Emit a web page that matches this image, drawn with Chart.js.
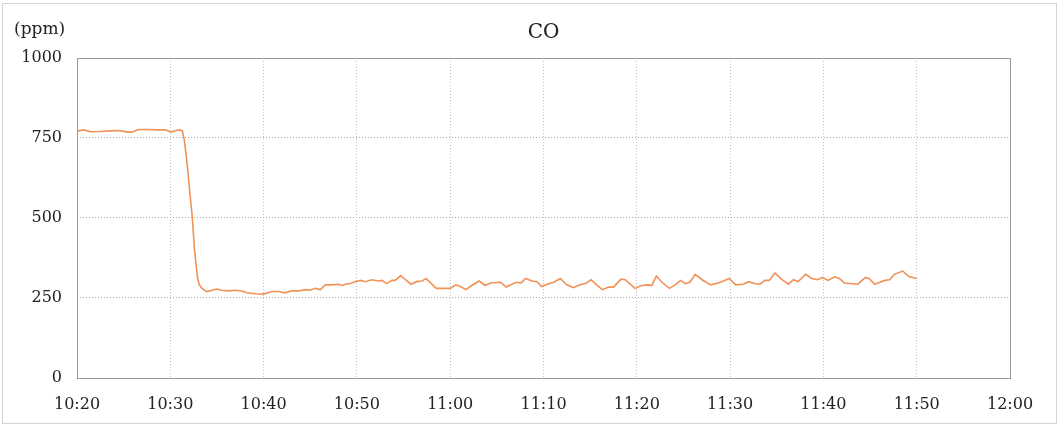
<!DOCTYPE html>
<html>
<head>
<meta charset="utf-8">
<script src="https://cdn.jsdelivr.net/npm/chart.js@4/dist/chart.umd.min.js"></script>
<style>
  html, body { margin: 0; padding: 0; background: #fff; }
  #wrap { width: 1059px; height: 427px; position: relative; }
</style>
</head>
<body>
<div id="wrap"><canvas id="c" width="1059" height="427"></canvas></div>
<script>
// ---- data ----
const chartTitle = 'CO';
const unitLabel = '(ppm)';
// minutes after 10:20
const minutes = [
  0, 0.7, 1.5, 2.5, 3.6, 4.6, 5.4, 5.9, 6.6, 7.5, 8.6, 9.5, 10.1, 10.6, 11.0, 11.3,
  11.5, 11.8, 12.1, 12.35, 12.6, 12.9, 13.1, 13.4, 13.9, 14.5, 15.0, 15.5, 16.25, 16.96,
  17.7, 18.2, 19.1, 20.0, 20.9, 21.6, 22.3, 23.0, 23.75, 24.5, 25.0, 25.5, 26.1, 26.6,
  27.3, 28.0, 28.4, 28.75, 29.3, 29.8, 30.4, 30.9, 31.6, 32.3, 32.7, 33.2, 33.75, 34.1,
  34.7, 35.2, 35.8, 36.4, 37.0, 37.4, 37.9, 38.5, 40.0, 40.6, 41.1, 41.7, 42.3, 43.1,
  43.75, 44.3, 45.4, 46.0, 46.6, 47.1, 47.6, 48.1, 48.75, 49.3, 49.8, 50.4, 51.1, 51.8,
  52.5, 53.2, 53.9, 54.5, 55.1, 55.7, 56.3, 57.0, 57.5, 58.3, 58.75, 59.3, 59.8, 60.5,
  61.25, 61.6, 62.1, 62.7, 63.5, 64.1, 64.7, 65.2, 65.7, 66.25, 67.0, 67.9, 68.75, 69.3,
  69.9, 70.6, 71.4, 72.0, 72.6, 73.2, 73.75, 74.2, 74.8, 75.5, 76.25, 76.8, 77.3, 78.1,
  78.75, 79.4, 79.9, 80.5, 81.2, 81.7, 82.25, 83.7, 84.5, 84.9, 85.5, 86.2, 86.6, 87.1,
  87.6, 88.5, 89.2, 90.0
];
const coValues = [
  771, 775, 769, 770, 772, 773, 768, 768, 776, 776, 775, 775, 768, 773, 775, 771,
  743, 670, 577, 503, 399, 316, 290, 279, 269, 273, 277, 273, 271, 273,
  271, 265, 262, 261, 269, 269, 265, 271, 271, 275, 273, 279, 275, 290,
  290, 292, 288, 292, 294, 300, 304, 300, 306, 302, 304, 294, 304, 304,
  319, 306, 292, 300, 302, 310, 296, 279, 279, 290, 285, 275, 288, 302,
  288, 296, 298, 283, 292, 298, 296, 310, 302, 300, 285, 292, 298, 310,
  290, 281, 290, 294, 306, 290, 275, 283, 283, 308, 306, 292, 279, 288,
  290, 288, 317, 298, 279, 290, 304, 294, 298, 323, 306, 290, 296, 302,
  310, 290, 292, 300, 294, 292, 304, 304, 327, 308, 292, 306, 300, 323,
  310, 306, 313, 304, 315, 310, 296, 292, 313, 310, 292, 300, 304, 306,
  323, 333, 315, 310
];
const xTickLabels = ['10:20', '10:30', '10:40', '10:50', '11:00', '11:10', '11:20', '11:30', '11:40', '11:50', '12:00'];
const yTickValues = [0, 250, 500, 750, 1000];

// ---- chart ----
const FONT = '"DejaVu Serif", "Liberation Serif", serif';
const points = minutes.map((m, i) => ({ x: m, y: coValues[i] }));

const decorPlugin = {
  id: 'decor',
  beforeDraw(chart) {
    const { ctx, width, height } = chart;
    ctx.save();
    ctx.fillStyle = '#ffffff';
    ctx.fillRect(0, 0, width, height);
    ctx.strokeStyle = '#d4d4d4';
    ctx.lineWidth = 1;
    ctx.strokeRect(2.5, 3.5, width - 5, height - 7);
    ctx.restore();
  },
  afterDatasetsDraw(chart) {
    const { ctx, chartArea: a } = chart;
    ctx.save();
    ctx.strokeStyle = '#9a9a9a';
    ctx.lineWidth = 1;
    ctx.strokeRect(Math.round(a.left) + 0.5, Math.round(a.top) + 0.5,
      Math.round(a.right - a.left), Math.round(a.bottom - a.top));
    ctx.fillStyle = '#222';
    ctx.textBaseline = 'middle';
    ctx.textAlign = 'center';
    ctx.font = '20px ' + FONT;
    ctx.fillText(chartTitle, (a.left + a.right) / 2, 33);
    ctx.textAlign = 'left';
    ctx.font = '17px ' + FONT;
    ctx.fillText(unitLabel, 14, 30);
    ctx.restore();
  }
};

new Chart(document.getElementById('c'), {
  type: 'line',
  data: {
    datasets: [{
      data: points,
      borderColor: 'rgb(240,145,85)',
      borderWidth: 1.6,
      pointRadius: 0,
      tension: 0,
      fill: false
    }]
  },
  options: {
    responsive: false,
    animation: false,
    events: [],
    layout: { padding: { top: 58, right: 49, left: 0, bottom: 0 } },
    plugins: { legend: { display: false }, title: { display: false }, tooltip: { enabled: false } },
    scales: {
      x: {
        type: 'linear',
        min: 0, max: 100,
        afterFit(s) { s.height = 49.5; },
        afterBuildTicks(s) { s.ticks = xTickLabels.map((_, i) => ({ value: i * 10 })); },
        ticks: {
          autoSkip: false, maxRotation: 0, padding: 18,
          color: '#222', font: { family: FONT, size: 16 },
          callback: (v) => xTickLabels[Math.round(v / 10)]
        },
        grid: {
          drawTicks: false,
          color: (c) => (c.index === 0 || c.index === xTickLabels.length - 1) ? 'rgba(0,0,0,0)' : '#c4c4c4',
          lineWidth: 1
        },
        border: { display: false, dash: [1, 2] }
      },
      y: {
        min: 0, max: 1000,
        afterFit(s) { s.width = 77; },
        afterBuildTicks(s) { s.ticks = yTickValues.map(v => ({ value: v })); },
        ticks: {
          padding: 15, color: '#222', font: { family: FONT, size: 16 },
          callback: (v) => String(v)
        },
        grid: {
          drawTicks: false,
          color: (c) => (c.index === 0 || c.index === yTickValues.length - 1) ? 'rgba(0,0,0,0)' : '#a8a8a8',
          lineWidth: 1
        },
        border: { display: false, dash: [1, 2] }
      }
    }
  },
  plugins: [decorPlugin]
});
</script>
</body>
</html>
